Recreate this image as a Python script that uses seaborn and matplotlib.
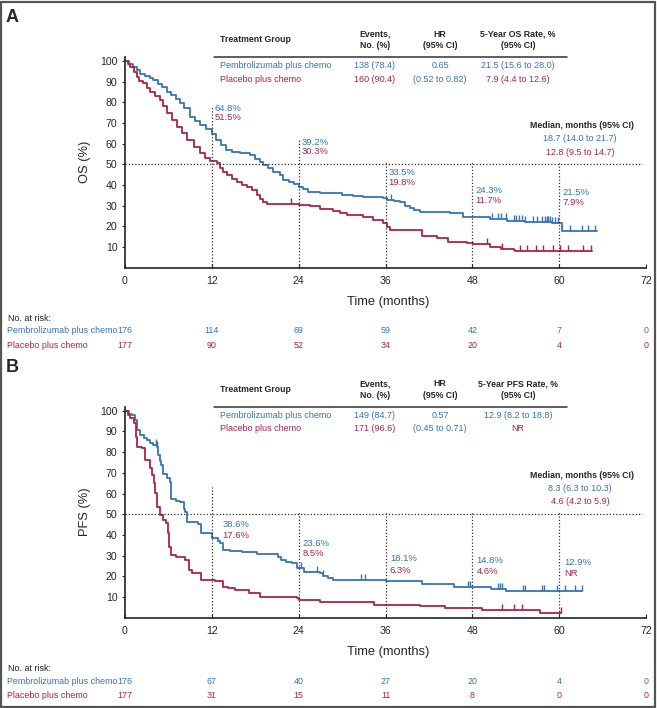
import numpy as np
import matplotlib
matplotlib.use('Agg')
import matplotlib.pyplot as plt
import matplotlib.path as mpath
import matplotlib.transforms as mtrans
from matplotlib.patches import Rectangle
import seaborn as sns

# ---------- data ----------
# OS, pembrolizumab plus chemo (months, survival %)
os_pem_t = [0, 0.6, 1.1, 1.6, 2.1, 2.8, 3.4, 3.9, 4.5, 5.1, 5.8, 6.4, 7.0, 7.6, 8.2, 9.0,
            9.7, 10.4, 11.2, 12.0, 12.6, 13.3, 14.0, 14.8, 15.9, 17.3, 18.0, 18.6, 19.1,
            19.8, 20.5, 21.4, 21.9, 22.6, 23.3, 24.0, 24.6, 25.3, 27.0, 28.7, 30.0, 31.5,
            32.9, 35.7, 36.2, 37.2, 38.0, 38.7, 39.4, 40.0, 40.8, 43.0, 44.9, 46.7, 48.1,
            50.4, 52.8, 55.3, 59.0, 60.4, 65.2]
os_pem_s = [100, 98.3, 97.0, 95.5, 93.7, 92.5, 91.8, 90.7, 89.0, 87.2, 85.0, 83.5, 81.5,
            79.6, 77.0, 73.0, 71.0, 69.0, 67.0, 64.8, 62.0, 59.5, 57.0, 56.0, 55.4, 54.5,
            52.5, 51.0, 49.7, 48.0, 46.5, 45.0, 42.4, 41.5, 40.5, 39.2, 38.0, 36.6, 36.3,
            36.1, 35.4, 34.7, 34.2, 33.5, 32.8, 32.3, 31.8, 30.0, 28.9, 27.8, 27.0, 26.7,
            26.4, 24.5, 24.3, 23.5, 22.6, 22.1, 21.5, 17.8, 17.8]
os_pem_cens = [36.8, 50.7, 51.5, 52.0, 52.7, 53.7, 54.0, 54.4, 54.8, 55.3, 56.4, 56.9, 57.6,
               58.0, 58.3, 58.5, 58.8, 59.0, 59.4, 59.9, 61.5, 63.1, 64.0, 64.9]

# OS, placebo plus chemo
os_pla_t = [0, 0.4, 0.7, 1.2, 1.6, 2.0, 2.5, 3.0, 3.5, 4.2, 4.8, 5.3, 5.8, 6.5, 7.2, 7.9,
            8.6, 9.5, 10.4, 11.0, 11.7, 12.7, 13.1, 13.6, 14.1, 14.8, 15.5, 16.2, 16.9,
            17.5, 18.2, 18.7, 19.1, 19.6, 22.8, 24.0, 25.6, 27.0, 28.7, 29.7, 30.7, 32.9,
            34.3, 35.7, 36.2, 36.6, 41.0, 43.1, 44.7, 47.2, 48.1, 50.4, 52.0, 53.7, 53.9,
            64.5]
os_pla_s = [100, 98.5, 97.0, 94.5, 92.3, 90.5, 89.2, 87.0, 85.0, 83.0, 81.0, 78.0, 74.7,
            71.5, 68.0, 65.0, 61.8, 58.5, 55.4, 53.0, 51.5, 50.6, 48.2, 46.5, 44.9, 43.0,
            41.5, 40.2, 39.1, 37.5, 35.2, 33.0, 31.8, 31.0, 30.8, 30.3, 29.9, 28.4, 27.4,
            26.5, 25.5, 24.5, 23.1, 21.7, 19.8, 18.3, 15.4, 14.4, 12.5, 12.0, 11.7, 10.0,
            9.2, 8.6, 7.9, 7.9]
os_pla_cens = [23.0, 50.0, 52.1, 54.6, 55.5, 56.8, 57.8, 59.2, 60.1, 61.2, 63.3, 64.4]

# PFS, pembrolizumab plus chemo
pfs_pem_t = [0, 0.5, 0.9, 1.4, 1.6, 2.1, 2.6, 3.0, 3.5, 3.9, 4.4, 4.6, 4.8, 5.0, 5.3, 5.8,
             6.2, 6.4, 7.0, 7.6, 8.1, 8.3, 8.6, 10.1, 10.5, 12.0, 12.8, 13.1, 13.5, 14.5,
             16.2, 18.2, 21.1, 21.6, 22.3, 23.1, 23.8, 24.8, 27.0, 27.3, 28.0, 28.7, 36.1,
             41.0, 45.4, 48.2, 50.6, 52.6, 63.2]
pfs_pem_s = [100, 98.5, 97.8, 95.5, 90.7, 88.3, 87.0, 85.9, 84.5, 83.4, 82.7, 78.6, 75.5,
             73.7, 69.6, 67.5, 65.5, 57.3, 56.5, 55.7, 52.5, 50.9, 46.0, 45.1, 41.1, 38.6,
             37.0, 35.9, 32.7, 32.3, 31.9, 30.6, 29.5, 27.9, 27.0, 26.3, 23.9, 22.2, 21.4,
             20.1, 19.3, 18.4, 17.8, 16.1, 15.0, 14.8, 13.9, 12.9, 12.9]
pfs_pem_cens = [4.3, 4.4, 24.3, 26.6, 27.3, 32.6, 33.2, 47.4, 47.7, 51.5, 51.8, 52.1, 55.0,
                55.3, 57.6, 57.9, 59.7, 60.8, 62.2, 63.1]

# PFS, placebo plus chemo
pfs_pla_t = [0, 0.4, 0.7, 1.2, 1.5, 1.7, 2.3, 2.8, 3.4, 3.8, 4.0, 4.2, 4.4, 4.8, 5.3, 5.6,
             5.9, 6.1, 6.4, 7.1, 8.3, 8.8, 9.3, 10.5, 12.5, 13.5, 14.2, 15.2, 17.2, 18.7,
             23.8, 24.1, 27.0, 34.4, 40.8, 44.2, 49.4, 57.4, 60.3]
pfs_pla_s = [100, 98.0, 96.3, 93.9, 87.4, 82.3, 81.8, 76.2, 72.2, 68.9, 65.0, 60.1, 53.6,
             49.6, 47.2, 45.6, 40.8, 34.3, 30.3, 29.5, 27.9, 23.0, 21.4, 18.2, 17.6, 15.0,
             14.3, 13.4, 12.1, 9.9, 9.4, 8.5, 7.4, 6.3, 5.7, 4.6, 3.7, 2.4, 2.4]
pfs_pla_cens = [52.1, 53.8, 54.9, 60.3]

# landmark rates
landmarks = [12, 24, 36, 48, 60]
os_pem_rate = ['64.8%', '39.2%', '33.5%', '24.3%', '21.5%']
os_pla_rate = ['51.5%', '30.3%', '19.8%', '11.7%', '7.9%']
pfs_pem_rate = ['38.6%', '23.6%', '18.1%', '14.8%', '12.9%']
pfs_pla_rate = ['17.6%', '8.5%', '6.3%', '4.6%', 'NR']

# numbers at risk
risk_times = [0, 12, 24, 36, 48, 60, 72]
os_pem_risk = [176, 114, 69, 59, 42, 7, 0]
os_pla_risk = [177, 90, 52, 34, 20, 4, 0]
pfs_pem_risk = [176, 67, 40, 27, 20, 4, 0]
pfs_pla_risk = [177, 31, 15, 11, 8, 0, 0]

groups = ['Pembrolizumab plus chemo', 'Placebo plus chemo']
os_table = [['138 (78.4)', '0.65', '21.5 (15.6 to 28.0)'],
            ['160 (90.4)', '(0.52 to 0.82)', '7.9 (4.4 to 12.6)']]
pfs_table = [['149 (84.7)', '0.57', '12.9 (8.2 to 18.8)'],
             ['171 (96.6)', '(0.45 to 0.71)', 'NR']]
os_median = ['18.7 (14.0 to 21.7)', '12.8 (9.5 to 14.7)']
pfs_median = ['8.3 (6.3 to 10.3)', '4.6 (4.2 to 5.9)']

BLUE = '#3674b3'
RED = '#ae2245'
DOT = (0, (1, 1.6))

sns.set_style('ticks')
plt.rcParams['font.family'] = ['Liberation Sans', 'DejaVu Sans']
TAB = ['Liberation Sans', 'DejaVu Sans']

W, H = 657, 708
fig = plt.figure(figsize=(W / 100, H / 100), dpi=100)
fig.patch.set_facecolor('white')


def fx(px):
    return px / W


def fy(py):
    return 1 - py / H


# outer frame
fig.patches.append(Rectangle((0.002, 0.002), 0.995, 0.995, transform=fig.transFigure,
                             fill=False, edgecolor='#555555', lw=1.6))

tick_marker = mpath.Path([[0, 0], [0, 1]])


def step_at(t, s, x):
    idx = np.searchsorted(t, x, side='right') - 1
    return np.asarray(s)[idx]


def panel(top_px, bottom_px, letter, ylab, curves, cens, vtops, lbl_pos, rates, table,
          rate_head, median, risk):
    ax = fig.add_axes([fx(125), fy(bottom_px), fx(646) - fx(125), fy(top_px) - fy(bottom_px)])
    for (t, s), c, col in zip(curves, cens, [BLUE, RED]):
        sns.lineplot(x=t, y=s, drawstyle='steps-post', estimator=None, sort=False,
                     color=col, lw=1.3, ax=ax)
        ax.plot(c, step_at(t, s, c), ls='none', marker=tick_marker, ms=9, mew=1.0,
                color=col)
    ax.set_xlim(0, 72)
    ax.set_ylim(0, 102)
    ax.set_xticks(range(0, 73, 12))
    ax.set_yticks(range(10, 101, 10))
    ax.tick_params(axis='x', direction='in', length=3, pad=6, labelsize=7.6)
    ax.tick_params(axis='y', direction='out', length=2.5, pad=3, labelsize=7.6)
    for sp in ['top', 'right']:
        ax.spines[sp].set_visible(False)
    for sp in ['left', 'bottom']:
        ax.spines[sp].set_linewidth(1.2)
        ax.spines[sp].set_color('#222222')

    # reference lines
    ax.hlines(50, 0, 71.5, color='#333333', lw=0.9, linestyle=DOT)
    for x, yt in zip(landmarks, vtops):
        ax.vlines(x, 0, yt, color='#333333', lw=0.9, linestyle=DOT)
    for x, (lx, y1, y2), r1, r2 in zip(landmarks, lbl_pos, rates[0], rates[1]):
        ax.text(lx, y1, r1, color=BLUE, fontsize=6.8, va='center', family=TAB)
        ax.text(lx, y2, r2, color=RED, fontsize=6.8, va='center', family=TAB)

    ax.set_xlabel('Time (months)', fontsize=9.3)
    ax.xaxis.set_label_coords(0.505, -34 / (bottom_px - top_px))
    ax.xaxis.label.set_va('center')
    ax.set_ylabel(ylab, fontsize=9.3)
    ax.yaxis.set_label_coords(-0.077, 0.5)
    ax.yaxis.label.set_va('center')

    # panel letter
    fig.text(fx(12), fy(top_px - 39), letter, fontsize=13, fontweight='bold',
             ha='center', va='center', family=TAB)

    # summary table
    y0 = top_px - 17
    fig.text(fx(220), fy(y0), 'Treatment Group', fontsize=6.3, fontweight='bold',
             va='center', family=TAB)
    heads = [('Events,\nNo. (%)', 375), ('HR\n(95% CI)', 440), (rate_head + '\n(95% CI)', 518)]
    for txt, x in heads:
        fig.text(fx(x), fy(y0), txt, fontsize=6.3, fontweight='bold', ha='center',
                 va='center', family=TAB, linespacing=1.35)
    fig.add_artist(plt.Line2D([fx(214), fx(567)], [fy(y0 + 17.5), fy(y0 + 17.5)],
                              color='#333333', lw=1.1))
    cols = [BLUE, RED]
    for i, (g, row) in enumerate(zip(groups, table)):
        yy = y0 + 26 + i * 13.3
        fig.text(fx(220), fy(yy), g, fontsize=6.5, color=cols[i], va='center', family=TAB)
        fig.text(fx(375), fy(yy), row[0], fontsize=6.5, color=cols[i], ha='center',
                 va='center', family=TAB)
        fig.text(fx(440), fy(yy), row[1], fontsize=6.5, color=BLUE, ha='center',
                 va='center', family=TAB)
        fig.text(fx(518), fy(yy), row[2], fontsize=6.5, color=cols[i], ha='center',
                 va='center', family=TAB)

    # median
    fig.text(fx(582), fy(top_px + 69), 'Median, months (95% CI)', fontsize=6.3,
             fontweight='bold', ha='center', va='center', family=TAB)
    for i, m in enumerate(median):
        fig.text(fx(580), fy(top_px + 82 + i * 13.4), m, fontsize=6.5, color=cols[i],
                 ha='center', va='center', family=TAB)

    # numbers at risk
    tr = mtrans.blended_transform_factory(ax.transData, fig.transFigure)
    fig.text(fx(8), fy(bottom_px + 50.6), 'No. at risk:', fontsize=6.4, color='#222222',
             va='center', family=TAB)
    for i, (g, nums) in enumerate(zip(groups, risk)):
        yy = fy(bottom_px + 63.3 + i * 14)
        fig.text(fx(7), yy, g, fontsize=6.4, color=cols[i], va='center', family=TAB)
        for x, n in zip(risk_times, nums):
            ax.text(x, yy, str(n), transform=tr, fontsize=6.4, color=cols[i], ha='center',
                    va='center', family=TAB, clip_on=False)
    return ax


panel(56.8, 267.7, 'A', 'OS (%)',
      [(os_pem_t, os_pem_s), (os_pla_t, os_pla_s)],
      [os_pem_cens, os_pla_cens],
      [78, 62, 51.5, 51.5, 51.5],
      [(12.4, 77.1, 72.6), (24.4, 60.5, 56.1), (36.4, 46.0, 41.3),
       (48.4, 37.2, 32.4), (60.4, 36.2, 31.5)],
      (os_pem_rate, os_pla_rate), os_table, '5-Year OS Rate, %', os_median,
      [os_pem_risk, os_pla_risk])

panel(406.6, 617.7, 'B', 'PFS (%)',
      [(pfs_pem_t, pfs_pem_s), (pfs_pla_t, pfs_pla_s)],
      [pfs_pem_cens, pfs_pla_cens],
      [63, 51, 51, 51, 51],
      [(13.5, 45.1, 39.6), (24.55, 35.9, 30.8), (36.6, 28.4, 23.0),
       (48.6, 27.5, 22.2), (60.7, 26.8, 21.4)],
      (pfs_pem_rate, pfs_pla_rate), pfs_table, '5-Year PFS Rate, %', pfs_median,
      [pfs_pem_risk, pfs_pla_risk])

fig.savefig('out.png', dpi=100, facecolor='white')
